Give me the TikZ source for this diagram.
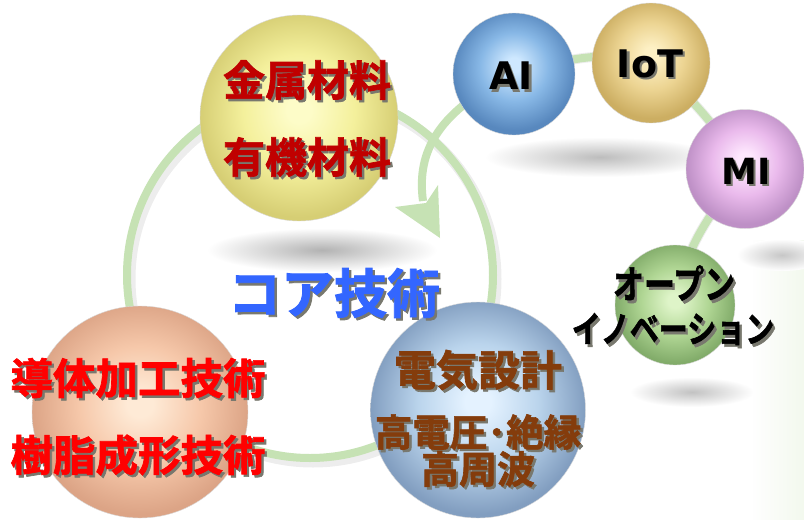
\documentclass[tikz,border=0pt]{standalone}
\usepackage{fontspec}
\usepackage{graphicx}
\newfontfamily\jp{Noto Sans CJK JP}[BoldFont={Noto Sans CJK JP Bold}, BoldFeatures={FakeBold=1.6}]
\newfontfamily\dv{DejaVu Sans}
\usetikzlibrary{shapes.geometric,fadings}

\definecolor{ringc}{RGB}{198,226,180}
\definecolor{darkred}{RGB}{192,0,0}
\definecolor{brightred}{RGB}{255,0,0}
\definecolor{coreblue}{RGB}{51,102,255}
\definecolor{brownc}{RGB}{132,60,12}
\definecolor{panelg}{RGB}{243,249,238}
\definecolor{shc}{RGB}{120,120,110}

\definecolor{yC}{RGB}{253,252,200}\definecolor{yM}{RGB}{244,240,156}\definecolor{yE}{RGB}{214,206,116}
\definecolor{pC}{RGB}{254,234,214}\definecolor{pM}{RGB}{246,200,170}\definecolor{pE}{RGB}{220,164,134}
\definecolor{bC}{RGB}{228,242,255}\definecolor{bM}{RGB}{186,212,236}\definecolor{bE}{RGB}{130,158,192}
\definecolor{aC}{RGB}{206,232,255}\definecolor{aM}{RGB}{136,184,230}\definecolor{aE}{RGB}{88,136,190}
\definecolor{iC}{RGB}{253,240,196}\definecolor{iM}{RGB}{236,212,146}\definecolor{iE}{RGB}{204,174,98}
\definecolor{mC}{RGB}{254,232,254}\definecolor{mM}{RGB}{234,186,236}\definecolor{mE}{RGB}{190,144,198}
\definecolor{gC}{RGB}{222,244,200}\definecolor{gM}{RGB}{176,214,148}\definecolor{gE}{RGB}{130,172,106}

\pgfdeclareradialshading{ballY}{\pgfpoint{0bp}{2bp}}{color(0bp)=(yC); color(3bp)=(yC); color(14bp)=(yM); color(25bp)=(yE); color(50bp)=(yE)}
\pgfdeclareradialshading{ballP}{\pgfpoint{0bp}{2bp}}{color(0bp)=(pC); color(3bp)=(pC); color(14bp)=(pM); color(25bp)=(pE); color(50bp)=(pE)}
\pgfdeclareradialshading{ballB}{\pgfpoint{0bp}{2bp}}{color(0bp)=(bC); color(3bp)=(bC); color(14bp)=(bM); color(25bp)=(bE); color(50bp)=(bE)}
\pgfdeclareradialshading{ballA}{\pgfpoint{0bp}{4bp}}{color(0bp)=(aC); color(3bp)=(aC); color(14bp)=(aM); color(25bp)=(aE); color(50bp)=(aE)}
\pgfdeclareradialshading{ballI}{\pgfpoint{0bp}{4bp}}{color(0bp)=(iC); color(3bp)=(iC); color(14bp)=(iM); color(25bp)=(iE); color(50bp)=(iE)}
\pgfdeclareradialshading{ballM}{\pgfpoint{0bp}{4bp}}{color(0bp)=(mC); color(3bp)=(mC); color(14bp)=(mM); color(25bp)=(mE); color(50bp)=(mE)}
\pgfdeclareradialshading{ballG}{\pgfpoint{0bp}{2bp}}{color(0bp)=(gC); color(3bp)=(gC); color(14bp)=(gM); color(25bp)=(gE); color(50bp)=(gE)}

\tikzfading[name=fadeR, left color=transparent!100, right color=transparent!0]

\newcommand\shd[1]{\rlap{\kern2.4pt\raisebox{-2.4pt}[0pt][0pt]{\color{shc}#1}}#1}
\newcommand\tallk[1]{\scalebox{1}[1.25]{#1}}

\tikzset{
  ball/.style={ellipse, shade, inner sep=0pt, draw=black!15, line width=0.4pt},
  ringline/.style={draw=ringc, line width=8pt},
  ringshadow/.style={draw=black, opacity=.07, line width=11pt},
  jpA/.style={font=\jp\bfseries\fontsize{42}{48}\selectfont, text=darkred},
  jpCore/.style={font=\jp\bfseries\fontsize{53}{60}\selectfont, text=coreblue},
  jpR/.style={font=\jp\bfseries\fontsize{42.5}{48}\selectfont, text=brightred},
  jpBr/.style={font=\jp\bfseries\fontsize{42}{48}\selectfont, text=brownc},
  jpBrS/.style={font=\jp\bfseries\fontsize{37.5}{42}\selectfont, text=brownc},
  jpBrM/.style={font=\jp\bfseries\fontsize{38}{44}\selectfont, text=brownc},
  lat/.style={font=\dv\bfseries\fontsize{38}{44}\selectfont, text=black},
  latM/.style={font=\dv\bfseries\fontsize{36}{42}\selectfont, text=black},
  jpK/.style={font=\jp\bfseries\fontsize{31}{36}\selectfont, text=black},
  jpKs/.style={font=\jp\bfseries\fontsize{29}{34}\selectfont, text=black},
}
\newcommand\stx[4]{\node[#3] (#1) at (#2) {\shd{#4}};}

\begin{document}
\begin{tikzpicture}[x=1pt,y=1pt]
\useasboundingbox (0,0) rectangle (804,-520);
\fill[white] (0,0) rectangle (804,-520);
% right panel
\fill[panelg, path fading=fadeR] (752,-240) rectangle (804,-520);
% soft shadows
\shade[inner color=black!30, outer color=white] (322,-250) ellipse [x radius=115, y radius=22];
\shade[inner color=black!26, outer color=white] (600,-157) ellipse [x radius=115, y radius=20];
\shade[inner color=black!22, outer color=white] (782,-255) ellipse [x radius=45, y radius=16];
\shade[inner color=black!24, outer color=white] (692,-392) ellipse [x radius=62, y radius=15];

% big ring
\draw[ringshadow] (313,-279) circle[radius=183];
\draw[ringline] (310,-275) circle[radius=183];

% sphere positions
\coordinate (pAI) at (514,-74);
\coordinate (pIoT) at (651,-63);
\coordinate (pMI) at (745,-169);
\coordinate (pGR) at (675,-305);

% outer arc and arrow
\draw[ringshadow, line width=10pt, shift={(2,-3)}] (pAI) to[out=15,in=165] (pIoT) to[out=-40,in=125] (pMI) to[out=-128,in=80] (pGR);
\draw[ringline] (pAI) to[out=15,in=165] (pIoT) to[out=-40,in=125] (pMI) to[out=-128,in=80] (pGR);
\coordinate (arrE) at (423,-201);
\draw[ringline] (pAI) .. controls (440,-110) and (416,-150) .. (arrE);
\fill[ringc] (395,-207) -- (426,-203) -- (438,-185) -- (440,-238) -- cycle;

% spheres
\node[ball, shading=ballA, minimum width=122pt, minimum height=122pt] (ai) at (pAI) {};
\node[ball, shading=ballI, minimum width=118pt, minimum height=120pt] (iot) at (pIoT) {};
\node[ball, shading=ballM, minimum width=118pt, minimum height=119pt] (mi) at (pMI) {};
\node[ball, shading=ballG, minimum width=120pt, minimum height=120pt] (gr) at (pGR) {};
\node[ball, shading=ballY, minimum width=198pt, minimum height=206pt] (ym) at (299,-118) {};
\node[ball, shading=ballP, minimum width=216pt, minimum height=212pt] (pk) at (140,-412) {};
\node[ball, shading=ballB, minimum width=215pt, minimum height=216pt] (bl) at (478,-410) {};

% texts
\stx{t1}{307,-80}{jpA}{金属材料}
\stx{t2}{307,-157}{jpA}{有機材料}
\stx{t3}{334,-293}{jpCore}{コア技術}
\stx{t4}{138,-378}{jpR}{導体加工技術}
\stx{t5}{138,-455}{jpR}{樹脂成形技術}
\stx{t6}{478,-370}{jpBr}{電気設計}
\stx{t7}{478,-432}{jpBrS}{高電圧･絶縁}
\stx{t8}{478,-469}{jpBrM}{高周波}
\stx{t9}{511,-76}{lat}{AI}
\stx{t10}{650,-64}{lat}{IoT}
\stx{t11}{746,-171}{latM}{MI}
\node[jpK] (t12) at (674,-283) {\tallk{\shd{オープン}}};
\node[jpKs] (t13) at (673,-329) {\tallk{\shd{イノベーション}}};
\end{tikzpicture}
\end{document}
